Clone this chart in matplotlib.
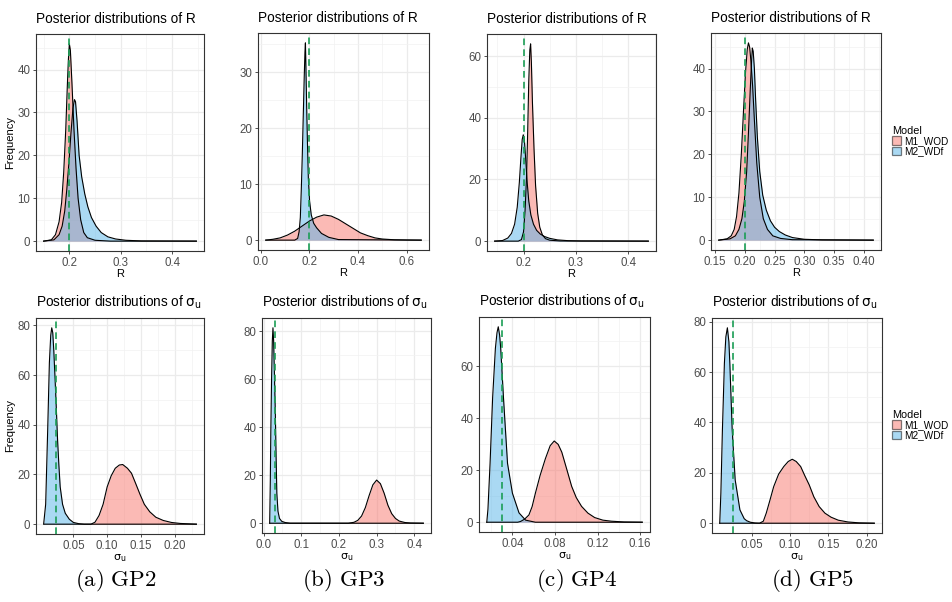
import numpy as np
import matplotlib as mpl
import matplotlib.pyplot as plt
from matplotlib.patches import Patch

plt.rcParams['font.family'] = ['Liberation Sans', 'DejaVu Sans']
plt.rcParams['mathtext.fontset'] = 'dejavusans'

models = ['M1_WOD', 'M2_WDf']
fills = ['#F8766D', '#56B4E9']
captions = ['(a)\\ GP2', '(b)\\ GP3', '(c)\\ GP4', '(d)\\ GP5']
true_r = [0.2, 0.2, 0.2, 0.2]
true_sigma = [0.025, 0.03, 0.03, 0.025]

# posterior densities of R: (x values, density values)
r_gp2_m1 = ([0.150, 0.165, 0.173, 0.180, 0.185, 0.189, 0.193, 0.196, 0.198, 0.200, 0.202, 0.205,
             0.209, 0.213, 0.217, 0.222, 0.228, 0.235, 0.25, 0.28, 0.447],
            [0, 0.3, 1.5, 4.5, 9, 16, 26, 36, 42, 46, 44.5, 37, 26, 17, 10, 5, 2, 0.8, 0.2, 0, 0])
r_gp2_m2 = ([0.150, 0.170, 0.180, 0.186, 0.191, 0.195, 0.199, 0.203, 0.207, 0.210, 0.212, 0.215,
             0.219, 0.224, 0.230, 0.236, 0.243, 0.252, 0.262, 0.275, 0.29, 0.31, 0.34, 0.447],
            [0, 0.3, 1.5, 3.5, 7, 12, 18, 25, 31, 33, 32.5, 28, 20, 15, 11, 8, 5.5, 3.5, 2, 1, 0.5,
             0.2, 0.05, 0])

r_gp3_m1 = ([0.021, 0.05, 0.08, 0.11, 0.14, 0.17, 0.20, 0.23, 0.26, 0.29, 0.32, 0.35, 0.38, 0.41,
             0.44, 0.47, 0.50, 0.55, 0.60, 0.66],
            [0, 0.15, 0.4, 0.9, 1.6, 2.5, 3.4, 4.1, 4.5, 4.3, 3.7, 2.9, 2.1, 1.3, 0.8, 0.4, 0.2, 0.06,
             0.02, 0])
r_gp3_m2 = ([0.021, 0.14, 0.152, 0.158, 0.163, 0.167, 0.171, 0.175, 0.179, 0.182, 0.184, 0.186,
             0.189, 0.192, 0.196, 0.201, 0.208, 0.218, 0.23, 0.25, 0.28, 0.32, 0.66],
            [0, 0, 0.3, 1.5, 4, 9, 15, 22, 29, 33.5, 35.2, 31, 24, 18, 11, 7, 4.5, 3, 2.2, 1.2, 0.5,
             0.1, 0])

r_gp4_m1 = ([0.145, 0.190, 0.196, 0.200, 0.203, 0.206, 0.208, 0.210, 0.212, 0.2135, 0.215, 0.217,
             0.220, 0.223, 0.227, 0.231, 0.236, 0.242, 0.25, 0.27, 0.438],
            [0, 0, 0.5, 3, 10, 22, 36, 52, 62, 64, 58, 45, 30, 18, 9, 4.5, 2, 0.8, 0.3, 0.05, 0])
r_gp4_m2 = ([0.145, 0.160, 0.170, 0.177, 0.183, 0.188, 0.192, 0.195, 0.1975, 0.1995, 0.2015, 0.204,
             0.207, 0.210, 0.214, 0.219, 0.225, 0.232, 0.24, 0.25, 0.265, 0.285, 0.31, 0.438],
            [0, 0.2, 1, 2.5, 5.5, 11, 19, 27, 33, 34.5, 33, 27, 19, 13, 8.5, 5.5, 3.5, 2.3, 1.5, 0.9,
             0.4, 0.15, 0.05, 0])

r_gp5_m1 = ([0.156, 0.170, 0.177, 0.182, 0.186, 0.190, 0.194, 0.198, 0.201, 0.204, 0.206, 0.208,
             0.210, 0.213, 0.216, 0.220, 0.225, 0.231, 0.238, 0.247, 0.26, 0.28, 0.416],
            [0, 0.3, 1, 2.5, 5.5, 11, 20, 31, 39, 44.5, 46, 45, 42, 36, 28, 18, 10, 5, 2.5, 1, 0.4,
             0.1, 0])
r_gp5_m2 = ([0.156, 0.175, 0.184, 0.190, 0.195, 0.199, 0.203, 0.206, 0.209, 0.211, 0.2125, 0.214,
             0.216, 0.218, 0.221, 0.225, 0.230, 0.236, 0.243, 0.250, 0.258, 0.268, 0.28, 0.30, 0.33,
             0.416],
            [0, 0.3, 1, 2.5, 5, 9, 16, 25, 35, 41, 44.8, 44, 40, 33, 24, 16, 10.5, 7, 4.5, 3, 2, 1.2,
             0.6, 0.2, 0.05, 0])

# posterior densities of sigma_u
s_gp2_m1 = ([0.007, 0.076, 0.082, 0.088, 0.094, 0.100, 0.106, 0.112, 0.118, 0.123, 0.130, 0.136,
             0.142, 0.1486, 0.155, 0.163, 0.172, 0.183, 0.195, 0.208, 0.232],
            [0, 0, 0.8, 3.5, 8, 15, 19.5, 22.5, 23.8, 24, 22.5, 20.5, 16.5, 12, 8, 5, 2.8, 1.5, 0.7,
             0.3, 0])
s_gp2_m2 = ([0.006, 0.009, 0.012, 0.0145, 0.0165, 0.018, 0.0195, 0.021, 0.023, 0.025, 0.0266,
             0.0285, 0.0305, 0.034, 0.038, 0.044, 0.05, 0.058, 0.066, 0.232],
            [0, 8, 38, 65, 76, 79, 77, 70, 58, 45, 34, 24, 15, 8, 4.4, 2, 0.7, 0.2, 0, 0])

s_gp3_m1 = ([0.016, 0.225, 0.240, 0.250, 0.260, 0.270, 0.280, 0.290, 0.300, 0.310, 0.320, 0.330,
             0.340, 0.350, 0.360, 0.375, 0.39, 0.424],
            [0, 0, 0.4, 1.2, 3, 6.5, 11.5, 16, 18, 16.5, 12.5, 7.5, 4, 2, 0.9, 0.3, 0.1, 0])
s_gp3_m2 = ([0.016, 0.0177, 0.019, 0.021, 0.023, 0.0247, 0.0265, 0.028, 0.031, 0.033, 0.035, 0.038,
             0.042, 0.048, 0.057, 0.07, 0.424],
            [0, 18, 38, 60, 76, 81.5, 76, 66, 46, 28, 12.5, 5, 2, 0.8, 0.3, 0, 0])

s_gp4_m1 = ([0.0159, 0.045, 0.0477, 0.0515, 0.0555, 0.0585, 0.0616, 0.066, 0.071, 0.0755, 0.0793,
             0.083, 0.0864, 0.091, 0.0957, 0.100, 0.105, 0.111, 0.1173, 0.125, 0.133, 0.145, 0.162],
            [0, 0, 0.3, 1.2, 2.8, 6, 11.2, 18, 24.5, 29.5, 31.3, 30, 27, 20.5, 13.8, 9.5, 6.1, 3.5,
             1.8, 0.8, 0.4, 0.1, 0])
s_gp4_m2 = ([0.0159, 0.017, 0.019, 0.0214, 0.024, 0.0255, 0.0267, 0.028, 0.029, 0.0316, 0.0354,
             0.040, 0.0462, 0.0524, 0.0616, 0.162],
            [0, 5, 22.7, 48, 67, 73, 75.3, 72, 67, 48, 22.7, 11.2, 3.6, 0.8, 0, 0])

s_gp5_m1 = ([0.008, 0.060, 0.065, 0.0688, 0.0735, 0.0785, 0.085, 0.0917, 0.0975, 0.1028, 0.108,
             0.1138, 0.119, 0.125, 0.131, 0.138, 0.1455, 0.1535, 0.163, 0.1756, 0.19, 0.21],
            [0, 0, 0.8, 4, 9, 14.5, 19.5, 22.5, 24.5, 25.4, 24.5, 22.5, 19, 15.2, 10.5, 6.6, 4, 2.4,
             1.2, 0.5, 0.15, 0])
s_gp5_m2 = ([0.008, 0.0095, 0.0115, 0.0141, 0.016, 0.018, 0.020, 0.0212, 0.0243, 0.0282, 0.0344,
             0.040, 0.0432, 0.048, 0.054, 0.06, 0.21],
            [0, 12, 37, 63.5, 74, 77.6, 72, 63.5, 37, 17.2, 5.3, 1.8, 1, 0.4, 0.1, 0, 0])

r_curves = [(r_gp2_m1, r_gp2_m2), (r_gp3_m1, r_gp3_m2), (r_gp4_m1, r_gp4_m2), (r_gp5_m1, r_gp5_m2)]
s_curves = [(s_gp2_m1, s_gp2_m2), (s_gp3_m1, s_gp3_m2), (s_gp4_m1, s_gp4_m2), (s_gp5_m1, s_gp5_m2)]

r_xticks = [[0.2, 0.3, 0.4], [0.0, 0.2, 0.4, 0.6], [0.2, 0.3, 0.4],
            [0.15, 0.20, 0.25, 0.30, 0.35, 0.40]]
r_xlabels = [['0.2', '0.3', '0.4'], ['0.0', '0.2', '0.4', '0.6'], ['0.2', '0.3', '0.4'],
             ['0.15', '0.20', '0.25', '0.30', '0.35', '0.40']]
s_xticks = [[0.05, 0.10, 0.15, 0.20], [0.0, 0.1, 0.2, 0.3, 0.4], [0.04, 0.08, 0.12, 0.16],
            [0.05, 0.10, 0.15, 0.20]]
s_xlabels = [['0.05', '0.10', '0.15', '0.20'], ['0.0', '0.1', '0.2', '0.3', '0.4'],
             ['0.04', '0.08', '0.12', '0.16'], ['0.05', '0.10', '0.15', '0.20']]
r_ystep = [10, 10, 20, 10]
s_ystep = [20, 20, 20, 20]

# panel frames in pixels: left, top, right, bottom
W, H = 953, 602
r_boxes = [(36, 34, 204, 251), (258, 33, 429, 250), (487, 34, 656, 251), (711, 33, 881, 250)]
s_boxes = [(36, 318, 204, 534), (262, 318, 431, 533), (479, 317, 650, 532), (712, 318, 882, 533)]

fig = plt.figure(figsize=(W / 100, H / 100), dpi=100)


def panel(box, curves, truth, xticks, xlabels, ystep, title, xlabel, ylabel):
    l, t, r, b = box
    ax = fig.add_axes([l / W, 1 - b / H, (r - l) / W, (b - t) / H])
    xs = [v for c in curves for v in c[0]]
    ymax = max(v for c in curves for v in c[1])
    for (x, y), col in zip(curves, fills):
        ax.fill_between(x, y, 0, color=col, alpha=0.5, lw=0)
        ax.plot(x, y, color='black', lw=0.8)
    ax.axvline(truth, color='#1B9E55', ls=(0, (4, 2.5)), lw=1.2)
    x0, x1 = min(xs), max(xs)
    pad = 0.05 * (x1 - x0)
    ytop = 1.05 * ymax
    ax.set_xticks(xticks)
    ax.set_xticklabels(xlabels)
    yt = np.arange(0, ytop, ystep)
    ax.set_yticks(yt)
    step = xticks[1] - xticks[0]
    minor_x = [xticks[0] - step / 2] + [v + step / 2 for v in xticks]
    ax.set_xticks(minor_x, minor=True)
    ax.set_yticks(list(yt + ystep / 2), minor=True)
    ax.set_xlim(x0 - pad, x1 + pad)
    ax.set_ylim(-0.05 * ymax, ytop)
    ax.grid(which='major', color='#EBEBEB', lw=0.9)
    ax.grid(which='minor', color='#F2F2F2', lw=0.5)
    ax.set_axisbelow(True)
    ax.tick_params(which='major', length=2.5, width=0.6, color='#333333',
                   labelcolor='#4D4D4D', labelsize=8.3, pad=1.5)
    ax.tick_params(which='minor', length=0)
    for s in ax.spines.values():
        s.set_color('#333333')
        s.set_linewidth(0.8)
    ax.set_title(title, loc='left', fontsize=9.8, pad=8)
    ax.set_xlabel(xlabel, fontsize=8, labelpad=0.5)
    if ylabel:
        ax.set_ylabel(ylabel, fontsize=8, labelpad=2)
    return ax


for i in range(4):
    panel(r_boxes[i], r_curves[i], true_r[i], r_xticks[i], r_xlabels[i], r_ystep[i],
          'Posterior distributions of R', 'R', 'Frequency' if i == 0 else None)
    panel(s_boxes[i], s_curves[i], true_sigma[i], s_xticks[i], s_xlabels[i], s_ystep[i],
          r'Posterior distributions of $\mathrm{\sigma_u}$', r'$\mathrm{\sigma_u}$',
          'Frequency' if i == 0 else None)

handles = [Patch(facecolor=c, alpha=0.5, edgecolor='black', lw=0.9) for c in fills]
for yc in [141, 425]:
    leg = fig.legend(handles, models, title='Model', loc='center left',
                     bbox_to_anchor=(888 / W, 1 - yc / H), frameon=False, fontsize=7.2,
                     title_fontsize=7.8, handlelength=0.9, handleheight=0.9,
                     handletextpad=0.35, labelspacing=0.05, borderaxespad=0,
                     alignment='left')
    for h in leg.legend_handles:
        h.set_edgecolor('black')

cap_x = [116, 344, 577, 813]
for cx, cap in zip(cap_x, captions):
    fig.text(cx / W, 1 - 580 / H, r'$\mathrm{' + cap + '}$', math_fontfamily='cm',
             fontsize=16.5, ha='center', va='center')

fig.savefig('out.png', dpi=100)
